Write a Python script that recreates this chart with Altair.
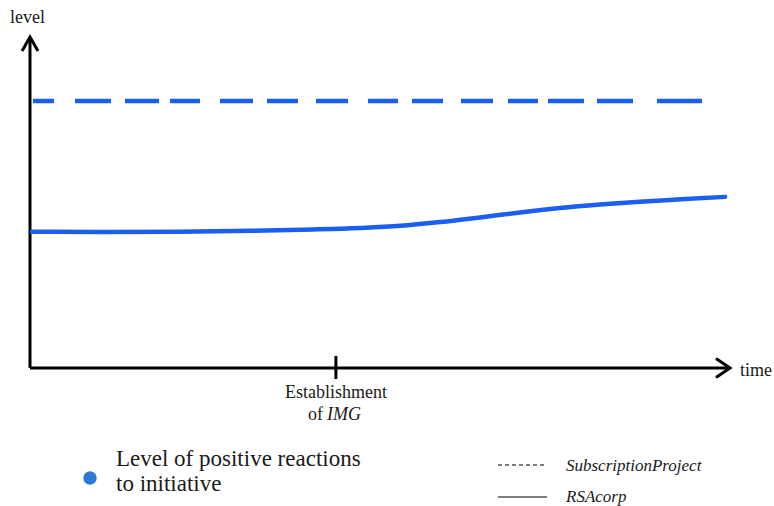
import altair as alt
import pandas as pd

# --- data -------------------------------------------------------------
rsa_time = [0.3, 10.0, 21.4, 31.4, 40.4, 47.1, 52.9, 58.6, 64.3, 70.0, 75.7, 81.4, 87.1, 92.9, 99.3]
rsa_level = [41.2, 41.1, 41.2, 41.45, 41.85, 42.3, 42.95, 44.1, 45.5, 47.0, 48.35, 49.4, 50.25, 50.95, 51.7]

sub_time = [0.43, 96.0]
sub_level = [80.7, 80.7]

event_time = 43.7          # Establishment of IMG
axis_time = [0, 100]
axis_level = [0, 100]

BLUE = "#1a5ff2"
FONT = "Liberation Serif, Times New Roman, serif"
SUB_DASH = [21, 21, 36, 14, 34, 11, 30, 20, 33, 14, 31, 18, 32, 20, 30, 14,
            31, 18, 32, 15, 30, 10, 36, 13, 36, 24, 45, 40]

rsa = pd.DataFrame({"t": rsa_time, "level": rsa_level})
sub = pd.DataFrame({"t": sub_time, "level": sub_level})
xaxis = pd.DataFrame({"t": axis_time, "level": [0, 0]})
yaxis = pd.DataFrame({"t": [0, 0], "level": axis_level})
one = pd.DataFrame({"a": [0]})

xs = alt.Scale(domain=[0, 100], range=[30, 730])
ys = alt.Scale(domain=[0, 100], range=[368, 37])
X = lambda f="t": alt.X(f"{f}:Q", scale=xs, axis=None)
Y = lambda f="level": alt.Y(f"{f}:Q", scale=ys, axis=None)

axis_x = alt.Chart(xaxis).mark_line(color="black", strokeWidth=3).encode(x=X(), y=Y())
axis_y = alt.Chart(yaxis).mark_line(color="black", strokeWidth=3).encode(x=X(), y=Y())

arrow_up = alt.Chart(pd.DataFrame({"t": [0], "level": [100]})).mark_point(
    shape="M -0.57 1 L 0 0 L 0.57 1", size=784, filled=False,
    color="black", strokeWidth=3, opacity=1
).encode(x=X(), y=Y())
arrow_right = alt.Chart(pd.DataFrame({"t": [100], "level": [0]})).mark_point(
    shape="M -1 -0.68 L 0 0 L -1 0.68", size=784, filled=False,
    color="black", strokeWidth=3, opacity=1
).encode(x=X(), y=Y())

tick = alt.Chart(pd.DataFrame({"t": [event_time]})).mark_rule(
    color="black", strokeWidth=3
).encode(x=X(), y=alt.value(356), y2=alt.value(379))

line_sub = alt.Chart(sub).mark_line(
    color=BLUE, strokeWidth=4.5, strokeDash=SUB_DASH, strokeCap="butt"
).encode(x=X(), y=Y())
line_rsa = alt.Chart(rsa).mark_line(
    color=BLUE, strokeWidth=4.5, interpolate="monotone", strokeCap="round"
).encode(x=X(), y=Y())


def txt(s, x, y, size, align="left", style="normal", baseline="alphabetic"):
    return alt.Chart(one).mark_text(
        text=s, font=FONT, fontSize=size, align=align, baseline=baseline,
        fontStyle=style, color="#1a1a1a"
    ).encode(x=alt.value(x), y=alt.value(y))


texts = [
    txt("level", 10, 23, 18),
    txt("time", 740, 376, 18),
    txt("Establishment", 336, 398, 18, align="center"),
    txt("of", 323, 420, 18, align="right"),
    txt("IMG", 327, 420, 18, style="italic"),
    txt("Level of positive reactions", 116, 466, 23),
    txt("to initiative", 116, 491, 23),
    txt("SubscriptionProject", 566, 471, 17, style="italic"),
    txt("RSAcorp", 566, 502, 17, style="italic"),
]

legend_dot = alt.Chart(one).mark_point(
    shape="circle", filled=True, size=180, color="#2f78cf", opacity=1
).encode(x=alt.value(90), y=alt.value(478))

leg_dash = alt.Chart(one).mark_rule(
    color="#555555", strokeWidth=1.3, strokeDash=[4, 3]
).encode(x=alt.value(498), x2=alt.value(547), y=alt.value(465))
leg_solid = alt.Chart(one).mark_rule(
    color="#555555", strokeWidth=1.5
).encode(x=alt.value(498), x2=alt.value(547), y=alt.value(497))

chart = alt.layer(
    axis_x, axis_y, arrow_up, arrow_right, tick, line_sub, line_rsa,
    legend_dot, leg_dash, leg_solid, *texts
).properties(
    width=774, height=506,
    autosize=alt.AutoSizeParams(type="none"),
    padding=0,
    background="white",
).configure_view(stroke=None)

chart.save("out.html", embed_options={"renderer": "svg", "actions": False})
